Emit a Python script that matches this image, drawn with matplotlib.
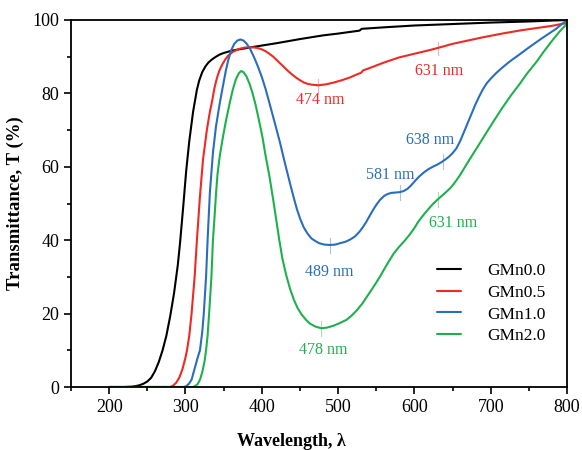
import matplotlib
matplotlib.use("Agg")
import matplotlib.pyplot as plt
from matplotlib.ticker import MultipleLocator

plt.rcParams['font.family'] = ['Liberation Serif', 'DejaVu Serif']

labels = ["GMn0.0", "GMn0.5", "GMn1.0", "GMn2.0"]
colors = ["#000000", "#ee2a24", "#2a6ebb", "#1fb04e"]
mark_colors = ["#999999", "#f4b3b0", "#a9c4e6", "#a8dcb8"]

wl_black = [200, 220, 230, 235, 240, 245, 250, 255, 260, 265, 270, 275, 280, 285, 290, 293, 297, 301, 305,
            310, 315, 318, 322, 326, 330, 335, 340, 345, 350, 360, 370, 390, 420, 450, 480, 500, 528, 531,
            560, 600, 650, 700, 750, 800]
t_black = [0, 0, 0.1, 0.25, 0.5, 0.9, 1.5, 2.5, 4.3, 6.8, 10, 14, 19.3, 25.5, 33.3, 39.5, 49, 59, 67,
           75, 81, 83.5, 85.8, 87.3, 88.4, 89.3, 90, 90.6, 91, 91.6, 92, 92.7, 93.7, 94.8, 95.8, 96.3, 97.1, 97.6,
           98, 98.5, 98.9, 99.3, 99.6, 100]

wl_red = [200, 250, 280, 284, 288, 292, 296, 300, 302, 305, 308, 312, 315, 319, 323, 328, 332, 335, 338, 341,
          344, 348, 352, 356, 362, 370, 378, 386, 394, 400, 405, 410, 415, 420, 425, 430, 435, 440, 445, 450,
          455, 460, 465, 474, 485, 495, 505, 515, 525, 530, 533, 540, 560, 580, 600, 620, 631, 650, 670, 690,
          715, 740, 760, 780, 800]
t_red = [0, 0, 0, 0.4, 1.2, 2.6, 4.8, 8, 10, 14, 20, 30, 40, 52, 62, 70, 75, 78, 81.5, 84,
         86, 87.8, 89.2, 90.3, 91.3, 92.1, 92.5, 92.6, 92.4, 92, 91.5, 90.8, 90, 89, 88, 87, 86, 85.1, 84.3, 83.6,
         83, 82.6, 82.4, 82.2, 82.5, 83, 83.6, 84.3, 85.2, 85.6, 86.3, 86.8, 88.4, 89.8, 90.8, 91.8, 92.4, 93.5,
         94.4, 95.3, 96.3, 97.2, 97.8, 98.4, 99.2]

wl_blue = [200, 250, 298, 301, 305, 308, 312, 316, 319, 322, 324, 327, 329, 332, 336, 340, 345, 350, 353, 356,
           360, 364, 368, 372, 376, 380, 385, 390, 395, 400, 405, 410, 417, 424, 430, 437, 442, 446, 450, 455,
           460, 465, 470, 475, 482, 489, 496, 503, 510, 516, 522, 528, 533, 537, 541, 546, 550, 555, 560, 565,
           570, 576, 581, 586, 591, 596, 601, 606, 612, 618, 624, 630, 635, 640, 645, 650, 655, 660, 665, 670,
           675, 680, 685, 690, 695, 700, 707, 715, 725, 735, 750, 767, 785, 800]
t_blue = [0, 0, 0, 0.2, 1, 2, 5, 8, 10, 15, 20, 30, 40, 53, 63.8, 71, 77.4, 83, 86.3, 89,
          91.8, 93.5, 94.4, 94.7, 94.4, 93.6, 92, 89.8, 87.3, 84.5, 81.2, 77.4, 72, 66.5, 61.3, 55.5, 51.5, 48.5, 46, 43.5,
          41.8, 40.5, 39.8, 39.2, 38.8, 38.7, 38.8, 39.2, 39.6, 40.2, 41, 42.3, 43.7, 45, 46.5, 48.3, 49.6, 51, 52, 52.6,
          52.9, 53, 53.1, 53.4, 54, 55, 56.2, 57.3, 58.4, 59.3, 60, 60.6, 61.2, 61.9, 62.7, 63.7, 65, 67, 69.5, 72,
          74.5, 77, 79.2, 81.2, 82.8, 84, 85.5, 87, 88.7, 90.2, 92.5, 95, 97.5, 100]

wl_green = [200, 250, 310, 313, 316, 319, 322, 325, 327, 329, 331, 334, 336, 338, 340, 342, 345, 349, 353, 358,
            362, 366, 370, 373, 376, 380, 384, 388, 392, 396, 401, 405, 410, 415, 419, 423, 427, 432, 437, 442,
            447, 452, 458, 463, 470, 478, 486, 494, 502, 511, 518, 525, 532, 541, 548, 555, 561, 567, 573, 580,
            587, 593, 599, 605, 612, 618, 624, 630, 636, 642, 648, 654, 660, 672, 683, 694, 705, 715, 726, 737,
            748, 760, 770, 781, 790, 800]
t_green = [0, 0, 0, 0.3, 0.8, 2, 4, 7, 10, 14, 20, 30, 40, 46, 52.5, 58, 63, 68, 72.5, 77.4,
           81, 83.8, 85.5, 86.1, 85.8, 84.6, 82.6, 80, 76.8, 73, 68, 63, 57.5, 51, 45.5, 40, 35, 30.5, 26.8, 23.8,
           21.5, 19.8, 18.3, 17.3, 16.5, 16, 16.2, 16.7, 17.4, 18.3, 19.5, 21, 22.8, 25.6, 27.8, 30.1, 32.3, 34.4, 36.4,
           38.2, 39.8, 41.3, 43, 45, 46.9, 48.4, 49.8, 51, 52.1, 53.2, 54.4, 56, 57.8, 61.9, 65.5, 69.2, 72.8, 76,
           79.3, 82.3, 85.5, 88.6, 91.5, 94.5, 96.8, 99]

# feature annotations
ann_series = [1, 1, 2, 2, 2, 3, 3]
ann_x = [474, 631, 489, 581, 638, 631, 478]
ann_ylo = [80, 90.5, 36.5, 51, 59.5, 49, 14]
ann_yhi = [84, 94, 40.5, 55, 63.5, 53, 18]
ann_text = ["474 nm", "631 nm", "489 nm", "581 nm", "638 nm", "631 nm", "478 nm"]
ann_tx = [476, 632, 489, 568, 621, 651, 481]
ann_ty = [78.2, 86, 31.3, 57.8, 67.3, 44.7, 10.1]

fig = plt.figure(figsize=(5.82, 4.5), dpi=100)
ax = fig.add_axes([71/582, 1-387/450, 496/582, 367/450])

series = [(wl_black, t_black), (wl_red, t_red), (wl_blue, t_blue), (wl_green, t_green)]
for (x, y), c, lab in zip(series, colors, labels):
    ax.plot(x, y, color=c, lw=1.5, label=lab, solid_joinstyle='round', solid_capstyle='round')

for s, mx, ylo, yhi, txt, tx, ty in zip(ann_series, ann_x, ann_ylo, ann_yhi, ann_text, ann_tx, ann_ty):
    ax.plot([mx, mx], [ylo, yhi], color=mark_colors[s], lw=0.8, zorder=1)
    ax.text(tx, ty, txt, color=colors[s], fontsize=11.5, ha='center', va='center')

ax.set_xlim(150, 800)
ax.set_ylim(0, 100)
ax.xaxis.set_minor_locator(MultipleLocator(50))
ax.yaxis.set_major_locator(MultipleLocator(20))
ax.yaxis.set_minor_locator(MultipleLocator(10))
ax.set_xticks([200, 300, 400, 500, 600, 700, 800])
ax.tick_params(which='both', direction='out', top=False, right=False, width=1.2)
ax.tick_params(which='major', length=5, labelsize=13)
ax.tick_params(which='minor', length=3)
for sp in ax.spines.values():
    sp.set_linewidth(1.3)

ax.set_xlabel("Wavelength, λ", fontsize=13, fontweight='bold')
ax.xaxis.set_label_coords((291-71)/496, -0.125)
ax.set_ylabel("Transmittance, T (%)", fontsize=13.5, fontweight='bold', labelpad=6)

ax.legend(loc='upper left', bbox_to_anchor=((437-71)/496, (387-263)/367), frameon=False,
          fontsize=12.5, handlelength=1.4, handletextpad=1.5, labelspacing=0.32, borderpad=0, borderaxespad=0)

fig.savefig("out.png", dpi=100)
